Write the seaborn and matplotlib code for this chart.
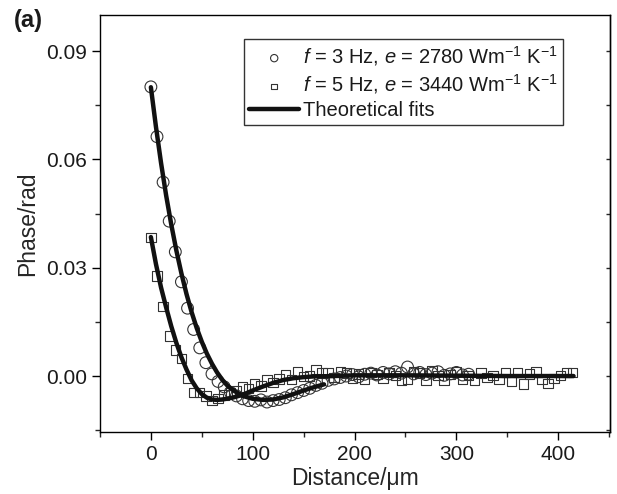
import matplotlib
matplotlib.use("Agg")
import matplotlib.pyplot as plt
import seaborn as sns
import pandas as pd

# measured points, f = 3 Hz (circles)
x_3hz = [0, 6, 12, 18, 24, 30, 36, 42, 48, 54, 60, 66, 72, 78, 84, 90, 96, 102,
         108, 114, 120, 126, 132, 138, 144, 150, 156, 162, 168, 174, 180, 186,
         192, 198, 204, 210, 216, 222, 228, 234, 240, 246, 252, 258, 264, 270,
         276, 282, 288, 294, 300, 306, 312]
y_3hz = [0.0801, 0.0663, 0.0537, 0.0429, 0.0344, 0.0261, 0.0188, 0.0129, 0.0078,
         0.0037, 0.0006, -0.0015, -0.0030, -0.0045, -0.0055, -0.0063, -0.0068,
         -0.0070, -0.0066, -0.0072, -0.0068, -0.0065, -0.0060, -0.0052, -0.0046,
         -0.0040, -0.0034, -0.0026, -0.0020, -0.0012, -0.0008, -0.0004, 0.0000,
         0.0004, -0.0002, 0.0005, 0.0008, 0.0003, 0.0010, 0.0006, 0.0012, 0.0008,
         0.0025, 0.0006, 0.0010, 0.0004, 0.0008, 0.0012, 0.0002, 0.0006, 0.0010,
         0.0003, 0.0005]

# measured points, f = 5 Hz (squares)
x_5hz = [0, 6, 12, 18, 24, 30, 36, 42, 48, 54, 60, 66, 72, 78, 84, 90, 96, 102,
         108, 114, 120, 126, 132, 138, 144, 150, 156, 162, 168, 174, 180, 186,
         192, 198, 204, 210, 216, 222, 228, 234, 240, 246, 252, 258, 264, 270,
         276, 282, 288, 294, 300, 306, 312, 318, 324, 330, 336, 342, 348, 354,
         360, 366, 372, 378, 384, 390, 396, 402, 408, 414]
y_5hz = [0.0384, 0.0277, 0.0192, 0.0111, 0.0072, 0.0049, -0.0006, -0.0046,
         -0.0046, -0.0055, -0.0068, -0.0062, -0.0052, -0.0045, -0.0042, -0.0030,
         -0.0035, -0.0022, -0.0028, -0.0010, -0.0018, -0.0008, 0.0005, -0.0010,
         0.0012, -0.0002, 0.0000, 0.0018, 0.0008, 0.0010, -0.0004, 0.0012, 0.0008,
         -0.0006, 0.0006, -0.0008, 0.0010, 0.0004, -0.0006, 0.0010, 0.0002,
         -0.0012, -0.0008, 0.0012, 0.0008, -0.0012, 0.0016, 0.0002, -0.0012,
         0.0004, 0.0012, -0.0008, 0.0002, -0.0012, 0.0008, -0.0004, 0.0002,
         -0.0010, 0.0010, -0.0014, 0.0010, -0.0022, 0.0006, 0.0012, -0.0010,
         -0.0020, -0.0006, 0.0002, 0.0010, 0.0010]

# theoretical fit curves
fit3_x = [0, 5, 10, 15, 20, 25, 30, 35, 40, 45, 50, 55, 60, 65, 70, 75, 80, 90,
          100, 110, 120, 130, 140, 150, 160, 170]
fit3_y = [0.0800, 0.0690, 0.0590, 0.0500, 0.0420, 0.0348, 0.0284, 0.0227, 0.0177,
          0.0133, 0.0095, 0.0062, 0.0034, 0.0010, -0.0010, -0.0026, -0.0038,
          -0.0055, -0.0063, -0.0066, -0.0065, -0.0059, -0.0050, -0.0040, -0.0031,
          -0.0023]
fit5_x = [0, 5, 10, 15, 20, 25, 30, 35, 40, 45, 50, 55, 60, 65, 70, 80, 90, 100,
          110, 120, 130, 140, 150, 160, 180, 200, 250, 300, 350, 415]
fit5_y = [0.0385, 0.0310, 0.0245, 0.0190, 0.0138, 0.0092, 0.0052, 0.0018,
          -0.0012, -0.0034, -0.0050, -0.0060, -0.0065, -0.0066, -0.0065, -0.0060,
          -0.0052, -0.0040, -0.0029, -0.0019, -0.0011, -0.0006, -0.0003, -0.0001,
          0.0000, 0.0002, 0.0002, 0.0001, 0.0000, 0.0000]

label_3hz = r"$f$ = 3 Hz, $e$ = 2780 Wm$^{-1}$ K$^{-1}$"
label_5hz = r"$f$ = 5 Hz, $e$ = 3440 Wm$^{-1}$ K$^{-1}$"

sns.set_style("ticks")
plt.rcParams["font.family"] = ["Liberation Sans", "DejaVu Sans"]
plt.rcParams["mathtext.fontset"] = "custom"
plt.rcParams["mathtext.rm"] = "Liberation Sans"
plt.rcParams["mathtext.it"] = "Liberation Sans:italic"
plt.rcParams["axes.linewidth"] = 1.0
plt.rcParams["text.color"] = "#1a1a1a"

fig = plt.figure(figsize=(6.17, 4.94), dpi=100)
ax = fig.add_axes([0.162, 0.1255, 0.827, 0.8441])

d3 = pd.DataFrame({"x": x_3hz, "y": y_3hz})
d5 = pd.DataFrame({"x": x_5hz, "y": y_5hz})
sns.scatterplot(data=d3, x="x", y="y", ax=ax, marker="o", s=72,
                facecolor="none", edgecolor="#333333", linewidth=0.8,
                label=label_3hz, zorder=2)
sns.scatterplot(data=d5, x="x", y="y", ax=ax, marker="s", s=46,
                facecolor="none", edgecolor="#333333", linewidth=0.8,
                label=label_5hz, zorder=2)
sns.lineplot(x=fit3_x, y=fit3_y, ax=ax, color="#111111", lw=3.2,
             label="Theoretical fits", zorder=3)
sns.lineplot(x=fit5_x, y=fit5_y, ax=ax, color="#111111", lw=3.2, zorder=3)

ax.set_xlim(-50, 451)
ax.set_ylim(-0.0155, 0.1)
ax.set_xticks([0, 100, 200, 300, 400])
ax.set_xticks([-50, 50, 150, 250, 350, 450], minor=True)
ax.set_yticks([0.0, 0.03, 0.06, 0.09])
ax.set_yticks([-0.015, 0.015, 0.045, 0.075], minor=True)
ax.set_yticklabels(["0.00", "0.03", "0.06", "0.09"])
ax.tick_params(axis="both", which="major", labelsize=15, direction="out",
               length=6, width=1, color="black", labelcolor="#1a1a1a")
ax.tick_params(axis="both", which="minor", direction="out", length=3.5, width=1)
for sp in ax.spines.values():
    sp.set_visible(True)
    sp.set_color("black")

# right-hand axis: short inward ticks, no labels
ax_r = ax.secondary_yaxis("right")
ax_r.set_yticks([0.0, 0.03, 0.06, 0.09])
ax_r.set_yticks([-0.015, 0.015, 0.045, 0.075], minor=True)
ax_r.tick_params(which="both", direction="in", length=3, width=1,
                 labelright=False)
ax_r.spines["right"].set_linewidth(1.0)

ax.set_xlabel("Distance/\u03bcm", fontsize=16.5, labelpad=2)
ax.set_ylabel("Phase/rad", fontsize=16.5, labelpad=5)

h, l = ax.get_legend_handles_labels()
leg = ax.legend(h[:3], l[:3], loc="upper right", bbox_to_anchor=(0.908, 0.942),
                fontsize=14.5, frameon=True, fancybox=False, markerscale=0.62,
                handlelength=2.5, handletextpad=0.2, borderpad=0.25,
                labelspacing=0.22, borderaxespad=0)
leg.get_frame().set_edgecolor("black")
leg.get_frame().set_linewidth(1.0)

fig.text(0.022, 0.945, "(a)", fontsize=17, fontweight="bold")

fig.savefig("out.png", dpi=100)
